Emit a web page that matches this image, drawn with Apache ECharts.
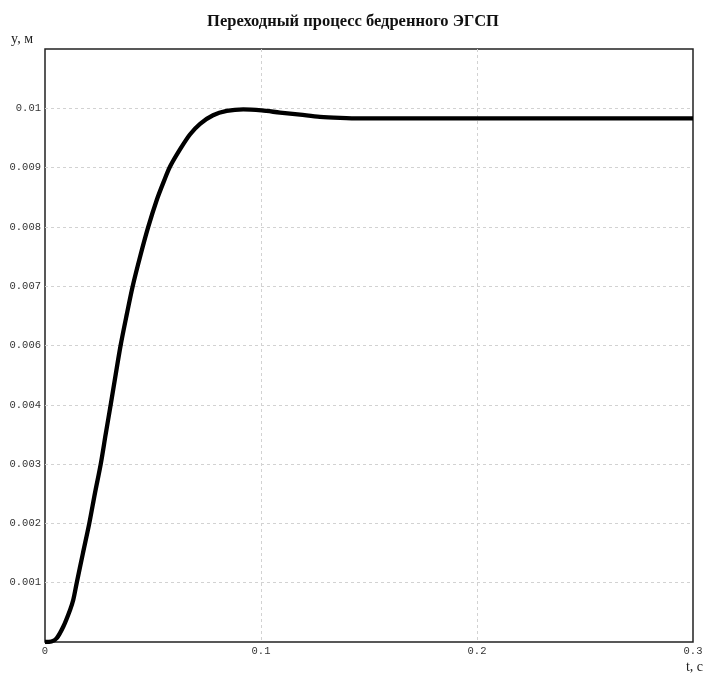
<!DOCTYPE html>
<html>
<head>
<meta charset="utf-8">
<script src="https://cdn.jsdelivr.net/npm/echarts@6/dist/echarts.min.js"></script>
<style>html,body{margin:0;padding:0;background:#fff}#c{width:706px;height:675px}</style>
</head>
<body>
<div id="c"></div>
<script>
var chartTitle = 'Переходный процесс бедренного ЭГСП';
var xName = 't, c';
var yName = 'y, м';
var tValues = [0, 0.0030, 0.0054, 0.0085, 0.0116, 0.0131, 0.0147, 0.0175, 0.0205, 0.0231, 0.0258, 0.0281, 0.0304, 0.0327, 0.0350, 0.0378, 0.0406, 0.0442, 0.0478, 0.0517, 0.0550, 0.0579, 0.0625, 0.0671, 0.0718, 0.0778, 0.0841, 0.0918, 0.1003, 0.1088, 0.1181, 0.1273, 0.1366, 0.1458, 0.2, 0.25, 0.3];
var yValues = [0, 0.00001, 0.00007, 0.00029, 0.00060, 0.00079, 0.00111, 0.00165, 0.00222, 0.00278, 0.00333, 0.00389, 0.00444, 0.00500, 0.00555, 0.00612, 0.00666, 0.00724, 0.00777, 0.00827, 0.00862, 0.00890, 0.00922, 0.00950, 0.00970, 0.00986, 0.00994, 0.00997, 0.00995, 0.00991, 0.00987, 0.00983, 0.00981, 0.00980, 0.00980, 0.00980, 0.00980];
var xTickLabels = ['0', '0.1', '0.2', '0.3'];
var yTickLabels = ['', '0.001', '0.002', '0.003', '0.004', '0.006', '0.007', '0.008', '0.009', '0.01', ''];
var yMax = 0.0111, yStep = 0.00111;

var data = tValues.map(function (t, i) { return [t, yValues[i]]; });
var chart = echarts.init(document.getElementById('c'));
var tickFont = {fontFamily: '"Liberation Mono", "DejaVu Sans Mono", monospace', fontSize: 10.5, color: '#333'};
var gridLine = {show: true, showMinLine: false, showMaxLine: false, lineStyle: {color: '#d2d2d2', type: [3, 3], width: 1}};
chart.setOption({
  animation: false,
  backgroundColor: '#fff',
  title: {
    text: chartTitle, left: 'center', top: 8,
    textStyle: {fontFamily: '"Liberation Serif", serif', fontWeight: 'bold', fontSize: 16.5, color: '#111'}
  },
  grid: {left: 45, top: 49, right: 13, bottom: 33, show: true, borderColor: '#222', borderWidth: 1.5, backgroundColor: '#fff'},
  xAxis: {
    type: 'value', min: 0, max: 0.3, interval: 0.1,
    name: xName, nameLocation: 'end', nameGap: 10,
    nameTextStyle: {fontFamily: '"Liberation Serif", serif', fontSize: 14, color: '#222', align: 'right', verticalAlign: 'top', padding: [18, 0, 0, 0]},
    axisLine: {show: false}, axisTick: {show: false},
    axisLabel: Object.assign({margin: 4, formatter: function (v) { return xTickLabels[Math.round(v / 0.1)]; }}, tickFont),
    splitLine: gridLine
  },
  yAxis: {
    type: 'value', min: 0, max: yMax, interval: yStep,
    name: yName, nameLocation: 'end', nameGap: 3,
    nameTextStyle: {fontFamily: '"Liberation Serif", serif', fontSize: 14, color: '#222', align: 'right', padding: [0, 12, 0, 0]},
    axisLine: {show: false}, axisTick: {show: false},
    axisLabel: Object.assign({margin: 4, formatter: function (v) { return yTickLabels[Math.round(v / yStep)] || ''; }}, tickFont),
    splitLine: gridLine
  },
  series: [{
    type: 'line', data: data, showSymbol: false, smooth: 0.3,
    lineStyle: {color: '#000', width: 4.3, cap: 'butt', join: 'round'}
  }]
});
</script>
</body>
</html>
